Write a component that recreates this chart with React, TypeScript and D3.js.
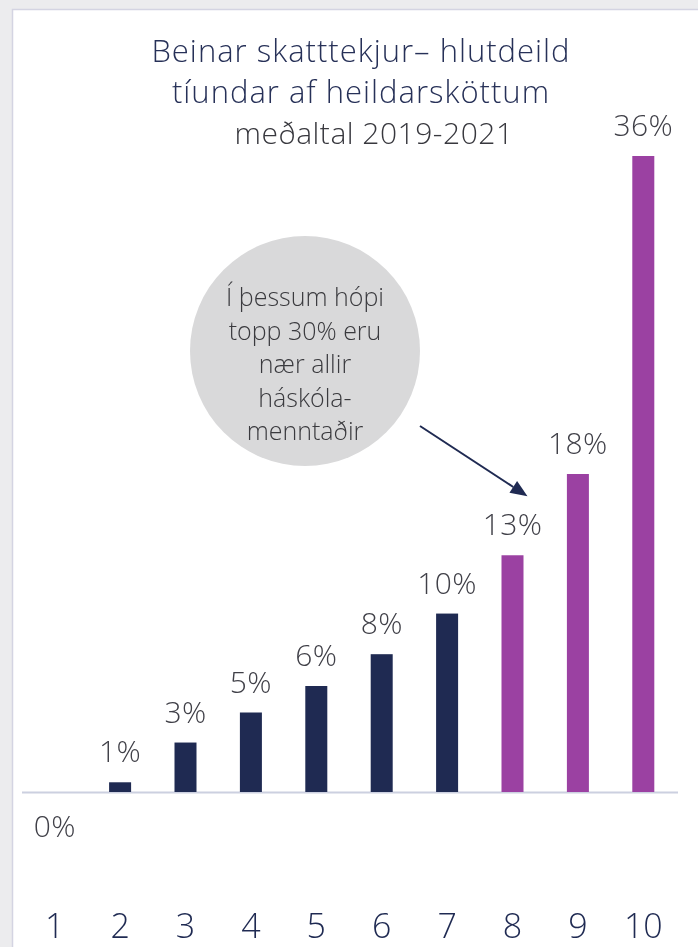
import { useMemo } from 'react';
import * as d3 from 'd3';

const WIDTH = 698;
const HEIGHT = 947;

const NAVY = '#1f2a52';
const PURPLE = '#9b41a2';
const LABEL_GRAY = '#404048';

const categories = ['1', '2', '3', '4', '5', '6', '7', '8', '9', '10'];
const shares = [0, 0.55, 2.8, 4.5, 6.0, 7.8, 10.1, 13.4, 18.0, 36.0];
const shareLabels = ['0%', '1%', '3%', '5%', '6%', '8%', '10%', '13%', '18%', '36%'];
const highlighted = ['8', '9', '10'];

const titleLines = ['Beinar skatttekjur– hlutdeild', 'tíundar af heildarsköttum', 'meðaltal 2019-2021'];
const calloutLines = ['Í þessum hópi', 'topp 30% eru', 'nær allir', 'háskóla-', 'menntaðir'];

const FONT = '"Open Sans", Lato, sans-serif';

export default function App() {
  const x = useMemo(
    () => d3.scalePoint<string>().domain(categories).range([22, 676]).padding(0.5),
    []
  );
  const y = useMemo(() => d3.scaleLinear().domain([0, 36]).range([792, 156]), []);
  const barW = 22;
  const baseY = y(0);

  // callout sits to the upper left of the 8th decile bar
  const target = categories[7];
  const tipX = (x(target) ?? 0) + 15;
  const tipY = y(shares[7]) - 59;
  const cx = 305;
  const cy = 351;
  const r = 115;
  const startX = 420;
  const startY = 426;
  const ang = Math.atan2(tipY - startY, tipX - startX);
  const head = 17;
  const hw = 7;
  const bx = tipX - head * Math.cos(ang);
  const by = tipY - head * Math.sin(ang);
  const px = -Math.sin(ang);
  const py = Math.cos(ang);

  return (
    <div style={{ position: 'fixed', left: 0, top: 0, width: WIDTH, height: HEIGHT }}>
      <svg width={WIDTH} height={HEIGHT} style={{ display: 'block' }}>
        <rect x={0} y={0} width={WIDTH} height={HEIGHT} fill="#ececee" />
        <rect x={12.5} y={9.5} width={WIDTH} height={HEIGHT} fill="#ffffff" stroke="#d4d4e2" strokeWidth={1.5} />

        {titleLines.map((t, i) => (
          <text
            key={t}
            x={i < 2 ? 361 : 374}
            y={62 + i * 41}
            textAnchor="middle"
            fontFamily={FONT}
            fontWeight={300}
            fontSize={i < 2 ? 31 : 30}
            letterSpacing={i < 2 ? 1 : 0.5}
            fill={i < 2 ? '#273158' : '#38383e'}
          >
            {t}
          </text>
        ))}

        <circle cx={cx} cy={cy} r={r} fill="#d9d9da" />
        {calloutLines.map((t, i) => (
          <text
            key={t}
            x={cx}
            y={306 + i * 33.5}
            textAnchor="middle"
            fontFamily={FONT}
            fontWeight={300}
            fontSize={25}
            fill="#3a3a3e"
          >
            {t}
          </text>
        ))}

        <line x1={startX} y1={startY} x2={bx} y2={by} stroke={NAVY} strokeWidth={2} />
        <path
          d={`M${tipX},${tipY}L${bx + px * hw},${by + py * hw}L${bx - px * hw},${by - py * hw}Z`}
          fill={NAVY}
        />

        <line x1={22} x2={678} y1={baseY + 0.5} y2={baseY + 0.5} stroke="#ccd0e0" strokeWidth={2} />

        {categories.map((c, i) => {
          const v = shares[i];
          const cxBar = x(c) ?? 0;
          const top = y(v);
          const fill = highlighted.includes(c) ? PURPLE : NAVY;
          return (
            <g key={c}>
              {v > 0 && <rect x={cxBar - barW / 2} y={top} width={barW} height={baseY - top} fill={fill} />}
              <text
                x={cxBar}
                y={v > 0 ? top - 20 : baseY + 45}
                textAnchor="middle"
                fontFamily={FONT}
                fontWeight={300}
                fontSize={30}
                letterSpacing={0.4}
                fill={LABEL_GRAY}
              >
                {shareLabels[i]}
              </text>
              <text
                x={cxBar}
                y={938}
                textAnchor="middle"
                fontFamily={FONT}
                fontWeight={300}
                fontSize={34}
                fill={NAVY}
              >
                {c}
              </text>
            </g>
          );
        })}
      </svg>
    </div>
  );
}
